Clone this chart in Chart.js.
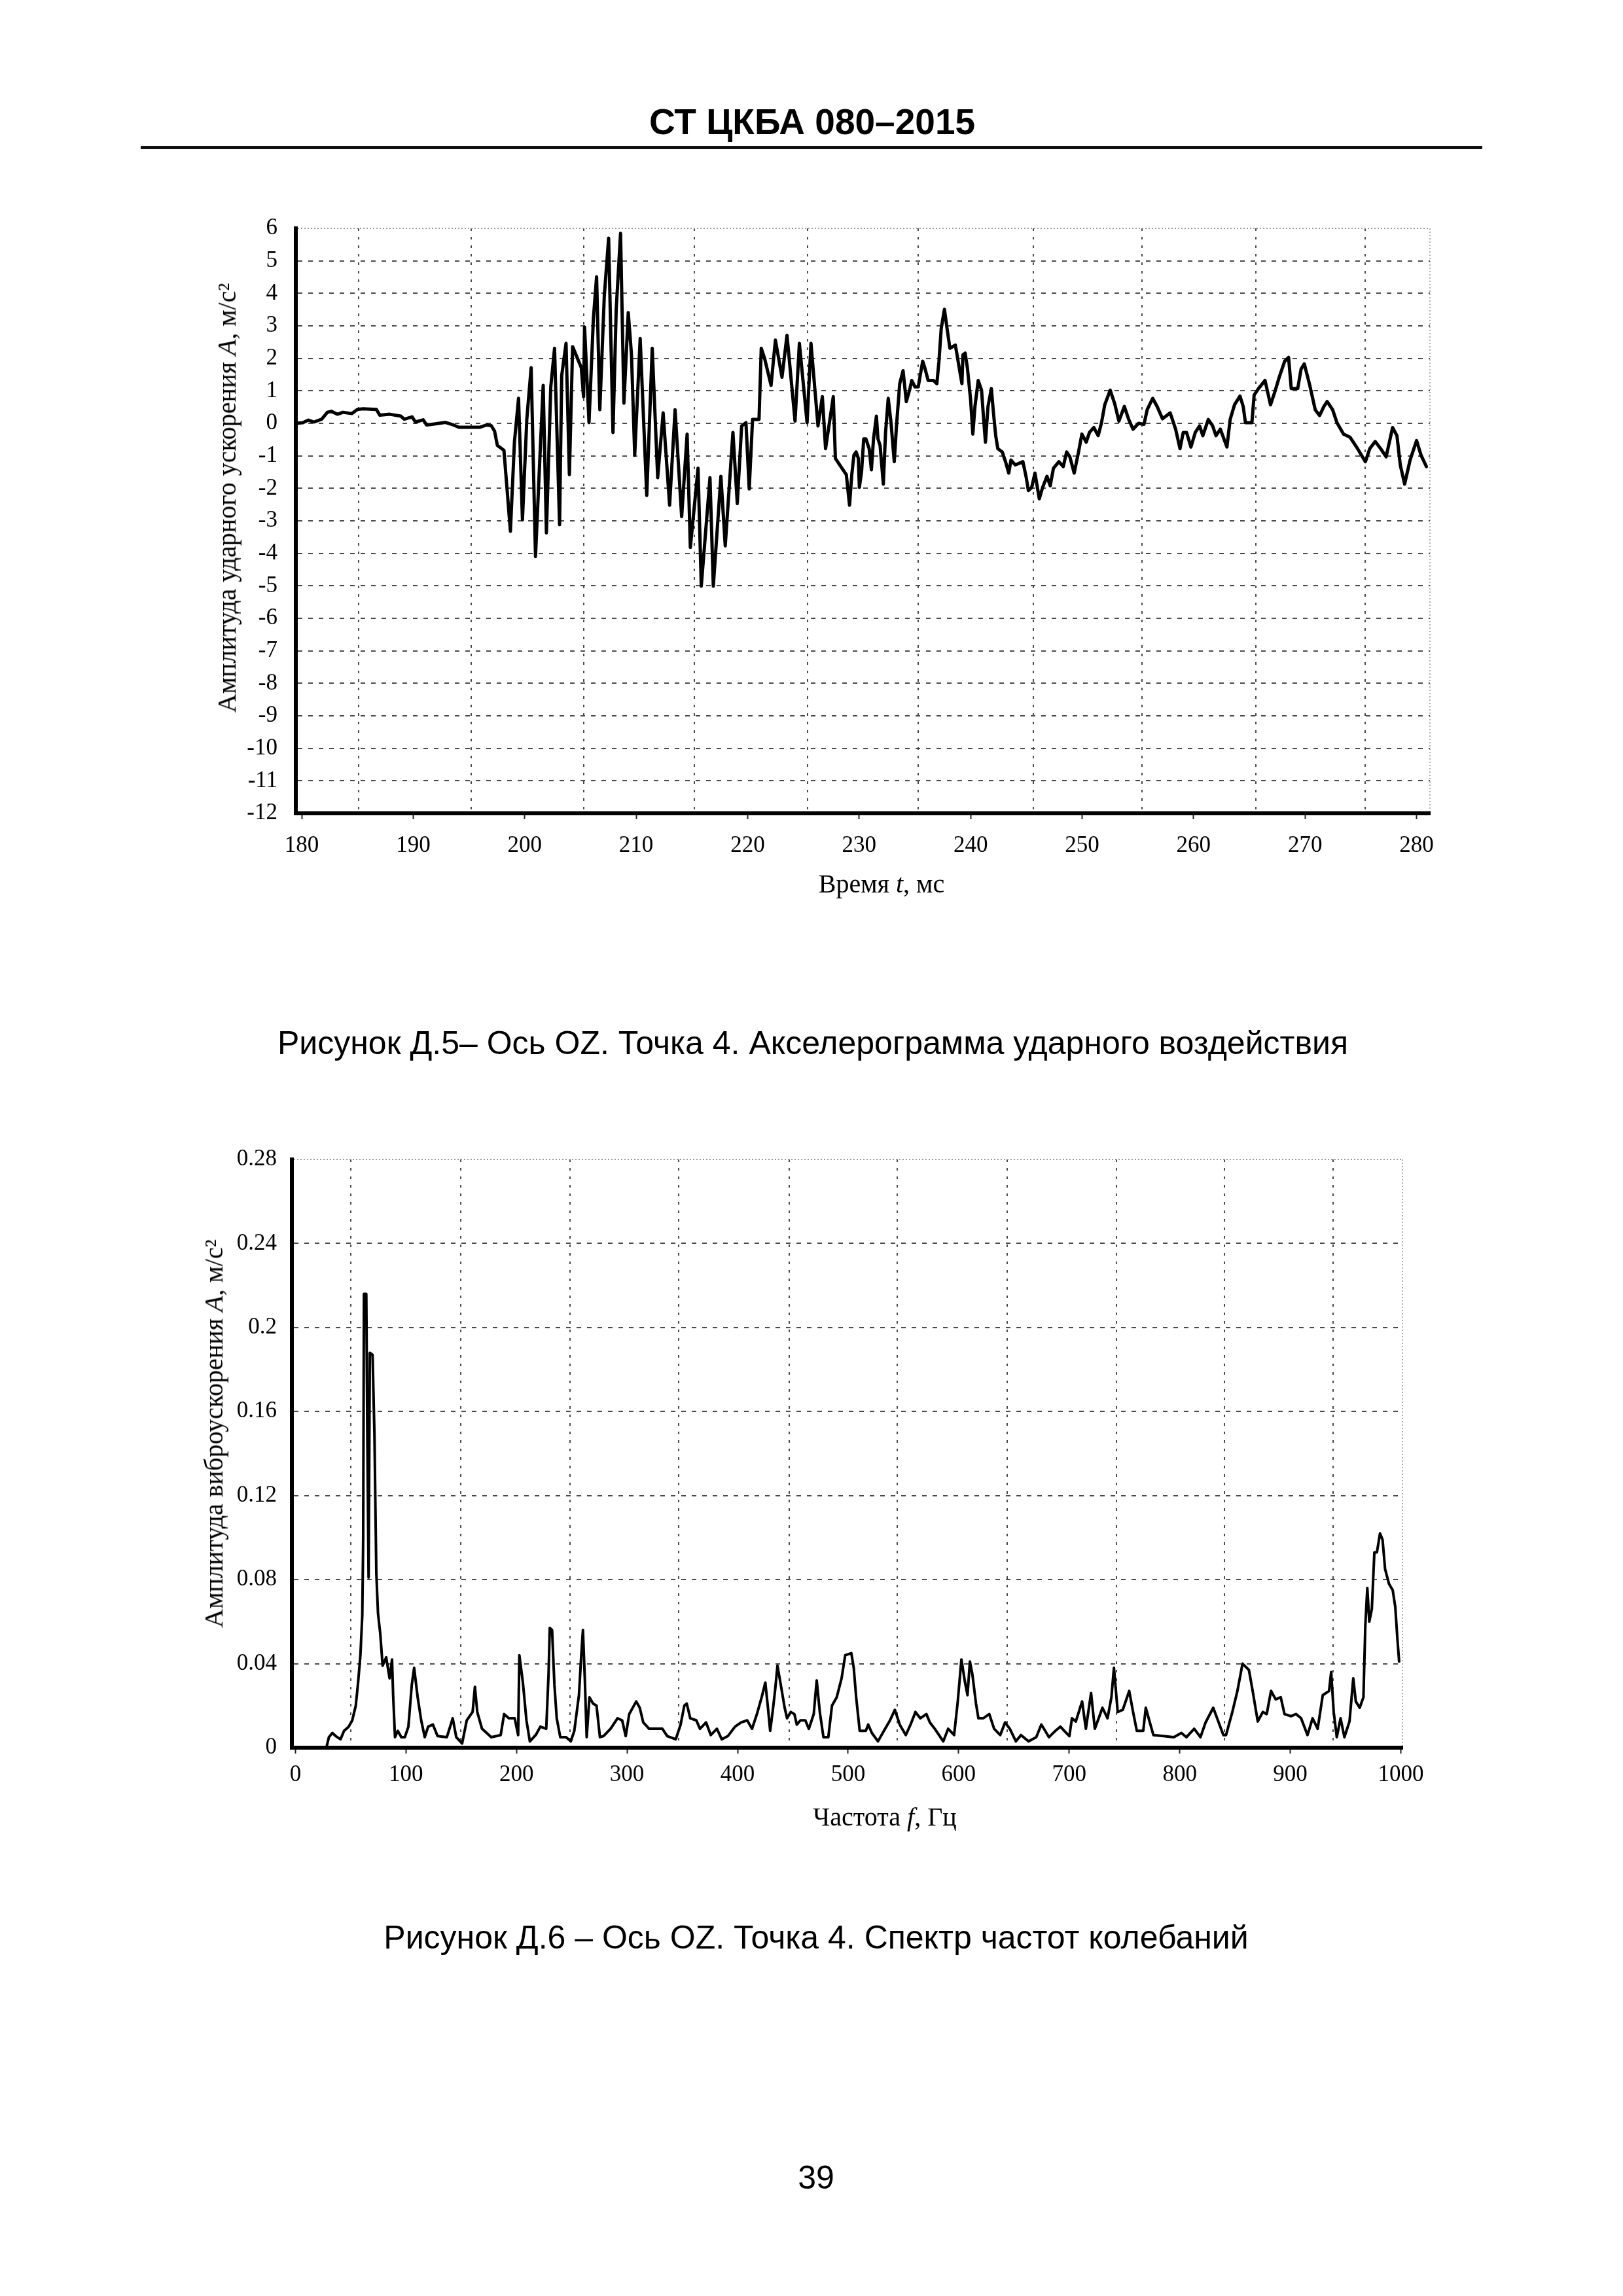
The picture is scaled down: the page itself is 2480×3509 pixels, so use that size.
<!DOCTYPE html>
<html>
<head>
<meta charset="utf-8">
<script src="https://cdn.jsdelivr.net/npm/chart.js@4/dist/chart.umd.min.js"></script>
<style>
html,body{margin:0;padding:0;background:#fff;}
#page{position:relative;width:2480px;height:3509px;background:#fff;overflow:hidden;}
.t{position:absolute;white-space:nowrap;color:#000;}
.c{transform:translateX(-50%);}
.r{transform:translate(-50%,-50%) rotate(-90deg);}
.sans{font-family:'Liberation Sans',Arial,sans-serif;}
.serif{font-family:'Liberation Serif','Times New Roman',serif;}
canvas{position:absolute;}
</style>
</head>
<body>
<div id="page">
  <div class="t c sans" style="left:1241px;top:159px;font-size:55px;line-height:55px;font-weight:bold;">СТ ЦКБА 080–2015</div>
  <div style="position:absolute;left:215px;top:223px;width:2050px;height:5px;background:#111;"></div>

  <canvas id="c1" width="2050" height="1150" style="left:200px;top:300px;width:2050px;height:1150px;"></canvas>
  <div class="t r serif" style="left:347px;top:761px;font-size:40px;line-height:40px;">Амплитуда ударного ускорения <i>A</i>, м/с²</div>
  <div class="t c serif" style="left:1347px;top:1331px;font-size:40px;line-height:40px;">Время <i>t</i>, мс</div>
  <div class="t c sans" style="left:1242px;top:1569px;font-size:50px;line-height:50px;">Рисунок Д.5– Ось OZ. Точка 4. Акселерограмма ударного воздействия</div>

  <canvas id="c2" width="2050" height="1100" style="left:200px;top:1720px;width:2050px;height:1100px;"></canvas>
  <div class="t r serif" style="left:327px;top:2191px;font-size:40px;line-height:40px;">Амплитуда виброускорения <i>A</i>, м/с²</div>
  <div class="t c serif" style="left:1352px;top:2757px;font-size:40px;line-height:40px;">Частота <i>f</i>, Гц</div>
  <div class="t c sans" style="left:1247px;top:2936px;font-size:50px;line-height:50px;">Рисунок Д.6 – Ось OZ. Точка 4. Спектр частот колебаний</div>

  <div class="t c sans" style="left:1247px;top:3303px;font-size:50px;line-height:50px;">39</div>
</div>
<script>
// ---------- Chart 1: acceleration vs time ----------
const timeMs = [
179.47,180.1,180.6,181.1,181.8,182.3,182.65,183.2,183.7,184.5,185.0,185.5,186.7,187.0,187.9,188.9,189.2,189.9,190.2,190.9,191.2,191.9,192.9,193.6,194.1,196.0,196.6,197.0,197.3,
197.55,198.14,198.72,199.08,199.45,199.80,200.19,200.58,200.97,201.36,201.66,201.95,202.34,202.68,203.13,203.32,203.71,204.01,204.30,205.08,205.28,205.37,205.77,206.16,206.45,206.74,207.14,207.53,207.92,208.21,208.60,208.90,209.29,209.58,209.87,210.36,210.95,211.44,211.93,212.42,213.00,213.49,214.08,214.57,214.86,215.55,215.84,216.62,216.92,217.60,217.99,218.68,219.07,219.46,219.85,220.14,220.44,221.02,221.22,221.51,222.10,222.49,223.08,223.53,224.25,224.64,225.33,225.68,226.31,226.70,226.99,227.68,
227.87,228.36,228.85,229.14,229.34,229.53,229.73,229.93,230.02,230.22,230.41,230.61,230.90,231.10,231.29,231.55,231.69,231.88,232.17,232.37,232.61,232.86,233.15,233.35,233.64,233.94,234.23,234.52,234.72,235.01,235.30,235.70,235.89,236.19,236.67,236.97,237.16,237.36,237.65,237.85,238.14,238.63,238.83,239.02,239.22,239.31,239.51,239.71,240.00,240.20,240.39,240.68,240.98,241.17,241.33,241.56,241.86,242.05,242.25,242.44,242.84,243.13,243.42,243.62,244.01,244.69,244.99,245.18,245.48,245.77,246.16,246.46,246.85,247.14,247.43,247.92,248.31,248.61,248.90,249.29,249.68,249.98,250.37,250.66,251.05,251.44,251.74,252.03,252.52,252.91,253.30,253.79,254.18,254.57,255.06,255.55,255.84,256.33,256.73,257.21,257.90,
258.39,258.78,259.07,259.37,259.76,260.15,260.54,260.83,261.32,261.71,262.01,262.40,262.99,263.28,263.67,264.16,264.45,264.65,265.23,265.43,265.82,266.41,266.90,267.29,267.68,268.17,268.52,268.76,269.34,269.64,269.93,270.42,270.91,271.30,271.69,271.98,272.47,272.86,273.45,274.04,274.62,275.41,275.80,276.29,276.78,277.27,277.85,278.24,278.54,278.93,279.42,280.00,280.40,280.88
];
const accel = [
0,0.02,0.1,0.04,0.13,0.34,0.37,0.28,0.34,0.3,0.43,0.45,0.43,0.25,0.28,0.22,0.13,0.2,0.04,0.11,-0.05,-0.02,0.03,-0.05,-0.12,-0.12,-0.05,-0.07,-0.24,
-0.68,-0.83,-3.32,-0.58,0.77,-2.97,0.12,1.71,-4.10,-1.08,1.17,-3.37,1.12,2.31,-3.12,1.47,2.46,-1.58,2.36,1.71,0.82,2.96,0.02,3.21,4.51,0.42,3.91,5.70,-0.28,3.51,5.85,0.62,3.41,2.11,-0.98,2.61,-2.22,2.31,-1.67,0.32,-2.52,0.42,-2.87,-0.33,-3.82,-1.38,-5.01,-1.67,-5.01,-1.63,-3.77,-0.28,-2.47,-0.08,0.02,-2.02,0.12,0.12,2.31,2.01,1.17,2.56,1.42,2.71,0.07,2.46,0.02,2.46,-0.08,0.82,-0.78,0.82,
-1.08,-1.33,-1.58,-2.52,-1.58,-0.98,-0.88,-1.08,-1.97,-1.48,-0.48,-0.48,-0.78,-1.43,-0.48,0.22,-0.48,-0.68,-1.87,-0.28,0.77,0.02,-1.18,-0.08,1.22,1.62,0.67,1.02,1.32,1.12,1.12,1.91,1.71,1.32,1.32,1.22,1.91,2.91,3.51,3.01,2.31,2.41,2.01,1.62,1.22,2.11,2.16,1.71,0.72,-0.33,0.52,1.32,1.02,0.12,-0.58,0.52,1.07,0.32,-0.38,-0.78,-0.88,-1.18,-1.53,-1.13,-1.28,-1.18,-1.67,-2.07,-1.97,-1.53,-2.32,-1.97,-1.63,-1.92,-1.38,-1.18,-1.33,-0.88,-1.03,-1.53,-0.88,-0.33,-0.58,-0.28,-0.13,-0.38,0.02,0.57,1.02,0.62,0.07,0.52,0.12,-0.18,0.00,-0.03,0.42,0.77,0.52,0.14,0.32,
-0.18,-0.78,-0.28,-0.28,-0.73,-0.28,-0.08,-0.38,0.12,-0.08,-0.38,-0.18,-0.73,0.12,0.57,0.84,0.52,0.02,0.02,0.87,1.07,1.32,0.57,0.97,1.42,1.91,2.03,1.07,1.07,1.67,1.83,1.17,0.42,0.24,0.52,0.67,0.42,0.02,-0.33,-0.43,-0.73,-1.18,-0.78,-0.56,-0.78,-1.03,-0.13,-0.38,-1.28,-1.87,-1.13,-0.53,-0.98,-1.33
];
const timeTicks = [180,190,200,210,220,230,240,250,260,270,280];
const timeGrid = [185.1,195.2,205.3,215.2,225.4,235.3,245.6,255.4,265.6,275.4];
const accelTicks = [6,5,4,3,2,1,0,-1,-2,-3,-4,-5,-6,-7,-8,-9,-10,-11,-12];
const T_MIN = 179.47, T_MAX = 281.2, A_MIN = -12, A_MAX = 6;

// ---------- Chart 2: spectrum ----------
const freqHz = [
0,28,30.3,33.4,36.5,40.8,44.0,48.2,51.4,54.6,56.7,58.8,60.5,61.3,62.0,64.1,65.1,66.2,67.3,69.8,71.5,73.2,74.7,76.8,78.9,82.1,85.2,87.4,88.4,90.1,92.6,95.8,99.0,102.2,105.3,107.4,110.6,113.8,117.0,120.1,124.4,128.6,137.0,142.3,145.5,150.8,155.0,160.3,162.4,164.5,168.8,177.2,185.7,188.8,193.1,198.4,201.5,202.6,205.8,209.0,212.1,217.4,221.6,226.9,229.0,230.1,232.2,234.3,236.4,239.6,244.9,249.1,252.3,256.5,258.6,260.1,261.8,263.5,266.0,269.2,272.4,275.5,278.7,285.1,291.4,295.6,298.8,302.0,308.3,311.5,314.7,320.0,
327.7,332.0,336.4,344.1,348.5,351.8,354.0,357.2,362.7,366.0,371.5,375.8,381.3,385.7,391.2,397.7,403.2,408.7,413.1,417.5,421.8,425.1,427.3,429.5,431.7,433.9,436.1,439.4,442.6,444.8,448.1,451.4,453.6,456.9,461.3,464.5,468.9,471.6,474.4,477.7,482.1,485.4,489.7,494.1,497.4,502.9,505.1,507.3,510.5,516.0,518.2,521.5,527.0,532.4,537.9,542.3,546.7,552.2,556.5,560.9,565.3,570.8,574.0,578.4,586.1,590.5,595.9,599.2,602.5,605.8,608.0,610.2,612.4,615.7,617.9,622.2,627.7,632.1,637.6,642.0,646.3,651.8,
656.4,663.3,670.2,674.8,678.3,681.7,687.5,692.1,695.6,700.2,702.5,706.0,711.7,715.1,719.8,723.2,726.7,730.1,734.7,738.2,740.5,743.9,748.5,754.3,757.8,761.2,767.0,769.3,772.7,776.2,785.4,794.6,801.5,806.1,813.1,818.8,823.4,830.3,834.9,839.5,841.9,847.6,852.2,856.8,862.6,866.0,870.6,875.2,878.7,882.6,886.8,891.4,894.8,900.6,905.2,909.8,915.6,920.2,924.8,929.4,935.1,937.0,939.3,942.1,945.5,949.0,953.6,957.0,959.3,962.8,966.2,967.9,969.7,971.5,973.8,976.1,978.4,981.2,983.5,985.8,989.3,992.7,995.0,996.9,998.5
];
const ampl = [
0,0,0.005,0.007,0.0055,0.004,0.008,0.010,0.013,0.020,0.031,0.044,0.063,0.099,0.216,0.216,0.146,0.081,0.188,0.187,0.149,0.083,0.064,0.054,0.039,0.043,0.033,0.042,0.025,0.005,0.008,0.005,0.005,0.010,0.030,0.038,0.024,0.013,0.005,0.010,0.011,0.0055,0.005,0.014,0.005,0.002,0.013,0.017,0.029,0.017,0.009,0.005,0.006,0.016,0.014,0.014,0.006,0.044,0.031,0.013,0.003,0.006,0.010,0.009,0.035,0.057,0.056,0.030,0.014,0.005,0.005,0.003,0.008,0.025,0.044,0.056,0.033,0.005,0.024,0.021,0.020,0.005,0.0055,0.009,0.014,0.013,0.0055,0.016,0.022,0.019,0.012,0.009,
0.009,0.009,0.0055,0.004,0.011,0.020,0.021,0.014,0.013,0.009,0.012,0.006,0.009,0.004,0.0055,0.010,0.012,0.013,0.009,0.016,0.024,0.031,0.020,0.008,0.017,0.027,0.039,0.029,0.019,0.014,0.017,0.016,0.011,0.013,0.013,0.009,0.016,0.032,0.017,0.005,0.005,0.020,0.024,0.033,0.044,0.045,0.038,0.024,0.008,0.008,0.011,0.007,0.003,0.008,0.013,0.018,0.011,0.006,0.011,0.017,0.014,0.016,0.012,0.009,0.003,0.009,0.006,0.022,0.042,0.031,0.025,0.041,0.035,0.021,0.014,0.014,0.016,0.009,0.006,0.012,0.009,0.003,
0.006,0.003,0.005,0.011,0.008,0.005,0.008,0.010,0.008,0.0055,0.014,0.0125,0.022,0.009,0.026,0.009,0.014,0.019,0.014,0.024,0.038,0.017,0.018,0.027,0.017,0.008,0.008,0.019,0.0125,0.006,0.0055,0.005,0.007,0.005,0.009,0.005,0.012,0.019,0.0125,0.006,0.006,0.017,0.027,0.040,0.037,0.027,0.0125,0.017,0.016,0.027,0.023,0.024,0.016,0.015,0.016,0.014,0.006,0.014,0.009,0.025,0.027,0.036,0.017,0.005,0.014,0.005,0.0125,0.033,0.022,0.019,0.024,0.058,0.076,0.060,0.066,0.093,0.093,0.102,0.099,0.085,0.078,0.075,0.067,0.052,0.041
];
const freqTicks = [0,100,200,300,400,500,600,700,800,900,1000];
const freqGrid = [49.9,149.3,248.7,346.7,446.6,544.4,644.1,742.7,840.6,938.5];
const amplTicks = [0,0.04,0.08,0.12,0.16,0.2,0.24,0.28];
const amplTickLabels = ['0','0.04','0.08','0.12','0.16','0.2','0.24','0.28'];
const F_MIN = -3.2, F_MAX = 1001.5, V_MIN = 0, V_MAX = 0.28;

Chart.defaults.font.family = "'Liberation Serif','Times New Roman',serif";
Chart.defaults.color = '#000';

function makeChart(canvas, xs, ys, o) {
  return new Chart(canvas, {
    type: 'line',
    data: { datasets: [{
      data: xs.map((x, i) => ({ x: x, y: ys[i] })),
      borderColor: '#000', borderWidth: o.lw, pointRadius: 0, tension: 0, fill: false,
      borderJoinStyle: 'round', borderCapStyle: 'round'
    }]},
    options: {
      responsive: false, animation: false, devicePixelRatio: 1,
      events: [],
      layout: { padding: { left: 0, right: o.padR, top: o.padT, bottom: 0 } },
      plugins: { legend: { display: false }, tooltip: { enabled: false }, title: { display: false } },
      scales: {
        x: {
          type: 'linear', min: o.xmin, max: o.xmax, position: 'bottom',
          afterBuildTicks: s => { s.ticks = o.xTicks.map(v => ({ value: v })); },
          ticks: { font: { size: 35 }, color: '#000', padding: o.xPad, maxRotation: 0, autoSkip: false,
                   callback: v => String(v) },
          grid: { drawOnChartArea: false, drawTicks: true, tickLength: 9, tickWidth: 2, tickColor: '#222' },
          border: { display: true, color: '#000', width: 6 },
          afterFit: s => { s.height = o.xH; }
        },
        xg: {
          type: 'linear', min: o.xmin, max: o.xmax, position: 'bottom',
          afterBuildTicks: s => { s.ticks = o.xGrid.concat([o.xmax]).map(v => ({ value: v })); },
          ticks: { display: false },
          grid: { drawTicks: false, lineWidth: 2,
                  color: c => (c.tick && c.tick.value === o.xmax) ? '#b0b0b0' : '#4a4a4a' },
          border: { display: false, dash: c => (c.tick && c.tick.value === o.xmax) ? [2, 3] : [4, 9] },
          afterFit: s => { s.height = 0; }
        },
        y: {
          type: 'linear', min: o.ymin, max: o.ymax,
          afterBuildTicks: s => { s.ticks = o.yTicks.map(v => ({ value: v })); },
          ticks: { font: { size: 35 }, color: '#000', padding: o.yPad, autoSkip: false,
                   callback: (v, i) => o.yLabels ? o.yLabels[o.yTicks.indexOf(v)] : String(v) },
          grid: { drawTicks: false, lineWidth: 2,
                  color: c => (c.tick && c.tick.value === o.ymax) ? '#9a9a9a' : '#4a4a4a' },
          border: { display: true, color: '#000', width: 6,
                    dash: c => (c.tick && c.tick.value === o.ymax) ? [2, 3] : [7, 9] },
          afterFit: s => { s.width = o.yW; }
        }
      }
    }
  });
}

makeChart(document.getElementById('c1'), timeMs, accel, {
  lw: 5, padR: 65, padT: 45, xH: 207, yW: 252, xPad: 20, yPad: 28,
  xmin: T_MIN, xmax: T_MAX, ymin: A_MIN, ymax: A_MAX,
  xTicks: timeTicks, xGrid: timeGrid, yTicks: accelTicks, yLabels: null
});

makeChart(document.getElementById('c2'), freqHz, ampl, {
  lw: 4, padR: 107, padT: 52, xH: 149, yW: 246, xPad: 12, yPad: 23,
  xmin: F_MIN, xmax: F_MAX, ymin: V_MIN, ymax: V_MAX,
  xTicks: freqTicks, xGrid: freqGrid, yTicks: amplTicks, yLabels: amplTickLabels
});
</script>
</body>
</html>
